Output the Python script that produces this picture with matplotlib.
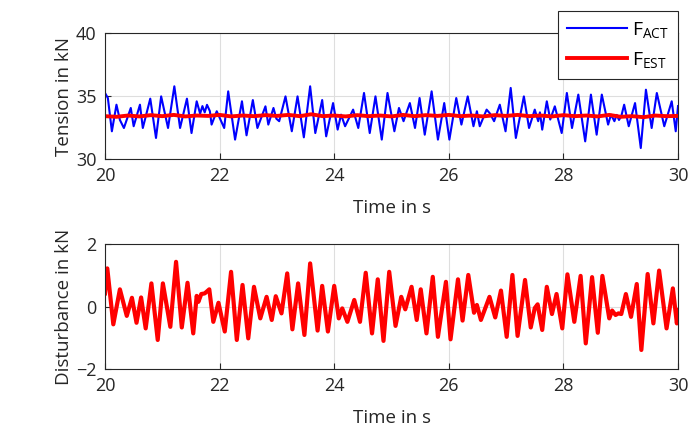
import matplotlib.pyplot as plt

t_act = [20.00, 20.05, 20.12, 20.20, 20.26, 20.33, 20.45, 20.50, 20.61, 20.66,
         20.79, 20.89, 20.98, 21.10, 21.21, 21.31, 21.43, 21.51, 21.60, 21.66,
         21.70, 21.74, 21.78, 21.83, 21.86, 21.95, 22.08, 22.15, 22.27, 22.39,
         22.47, 22.58, 22.66, 22.80, 22.85, 22.94, 22.99, 23.04, 23.15, 23.26,
         23.36, 23.47, 23.58, 23.67, 23.79, 23.86, 23.98, 24.06, 24.12, 24.19,
         24.33, 24.42, 24.52, 24.62, 24.72, 24.83, 24.93, 25.05, 25.13, 25.21,
         25.32, 25.41, 25.49, 25.58, 25.70, 25.81, 25.92, 26.01, 26.13, 26.22,
         26.33, 26.43, 26.49, 26.54, 26.66, 26.72, 26.79, 26.89, 26.99, 27.08,
         27.17, 27.31, 27.40, 27.50, 27.56, 27.59, 27.63, 27.71, 27.77, 27.85,
         27.97, 28.06, 28.15, 28.26, 28.38, 28.48, 28.58, 28.67, 28.78, 28.83,
         28.89, 28.93, 28.97, 29.01, 29.06, 29.14, 29.25, 29.35, 29.44, 29.54,
         29.63, 29.76, 29.89, 29.96, 30.00]
f_act = [35.24, 34.84, 32.20, 34.31, 33.10, 32.46, 34.05, 32.60, 34.31, 32.46,
         34.79, 31.67, 34.97, 32.46, 35.77, 32.46, 34.79, 32.06, 34.58, 33.60,
         34.20, 33.70, 34.30, 33.80, 32.73, 33.79, 32.46, 35.37, 31.54, 34.58,
         31.88, 34.68, 32.46, 34.18, 32.73, 34.05, 33.20, 33.00, 34.97, 32.20,
         34.97, 31.72, 35.77, 32.06, 34.68, 31.80, 34.44, 32.33, 33.52, 32.60,
         33.92, 32.46, 35.24, 32.06, 34.97, 31.54, 35.24, 32.20, 34.05, 33.00,
         34.44, 32.46, 34.84, 31.93, 35.37, 31.54, 34.44, 31.54, 34.84, 32.73,
         34.97, 32.60, 33.79, 32.60, 33.92, 33.60, 33.00, 34.31, 32.20, 35.64,
         31.67, 34.97, 32.46, 33.92, 33.00, 33.70, 32.33, 34.58, 33.13, 34.18,
         32.06, 35.24, 32.46, 35.11, 31.40, 35.11, 31.93, 35.11, 32.73, 33.52,
         33.00, 33.50, 33.10, 33.40, 34.31, 32.60, 34.44, 30.87, 35.50, 32.46,
         35.24, 32.60, 34.58, 32.20, 34.20]

# estimated tension
t_est = [20.0, 20.2, 20.4, 20.6, 20.8, 21.0, 21.2, 21.4, 21.6, 21.8,
         22.0, 22.2, 22.4, 22.6, 22.8, 23.0, 23.2, 23.4, 23.6, 23.8,
         24.0, 24.2, 24.4, 24.6, 24.8, 25.0, 25.2, 25.4, 25.6, 25.8,
         26.0, 26.2, 26.4, 26.6, 26.8, 27.0, 27.2, 27.4, 27.6, 27.8,
         28.0, 28.2, 28.4, 28.6, 28.8, 29.0, 29.2, 29.4, 29.6, 29.8, 30.0]
f_est = [33.40, 33.35, 33.45, 33.38, 33.48, 33.40, 33.50, 33.38, 33.45, 33.42,
         33.50, 33.38, 33.45, 33.40, 33.48, 33.42, 33.50, 33.40, 33.55, 33.40,
         33.45, 33.38, 33.48, 33.40, 33.45, 33.38, 33.50, 33.40, 33.48, 33.42,
         33.50, 33.40, 33.45, 33.38, 33.48, 33.42, 33.50, 33.40, 33.45, 33.38,
         33.48, 33.40, 33.45, 33.38, 33.50, 33.35, 33.40, 33.32, 33.45, 33.40, 33.42]

# disturbance
t_dist = [20.00, 20.04, 20.145, 20.26, 20.38, 20.47, 20.55, 20.63, 20.71, 20.81,
          20.92, 21.01, 21.14, 21.24, 21.34, 21.44, 21.54, 21.60, 21.63, 21.68,
          21.74, 21.82, 21.89, 21.98, 22.09, 22.20, 22.30, 22.40, 22.50, 22.60,
          22.71, 22.82, 22.91, 22.98, 23.08, 23.18, 23.27, 23.37, 23.48, 23.58,
          23.71, 23.79, 23.89, 24.00, 24.08, 24.14, 24.23, 24.35, 24.45, 24.55,
          24.66, 24.76, 24.86, 24.96, 25.07, 25.17, 25.24, 25.35, 25.44, 25.51,
          25.61, 25.72, 25.81, 25.95, 26.03, 26.16, 26.24, 26.34, 26.44, 26.49,
          26.56, 26.71, 26.81, 26.91, 27.01, 27.11, 27.20, 27.33, 27.43, 27.50,
          27.55, 27.63, 27.71, 27.80, 27.88, 27.98, 28.07, 28.19, 28.30, 28.39,
          28.50, 28.60, 28.68, 28.80, 28.85, 28.91, 28.96, 29.01, 29.09, 29.18,
          29.28, 29.36, 29.47, 29.57, 29.67, 29.80, 29.91, 29.98, 30.00]
d_dist = [0.42, 1.22, -0.57, 0.55, -0.30, 0.28, -0.52, 0.29, -0.70, 0.74,
          -1.07, 0.74, -0.65, 1.43, -0.67, 0.76, -0.86, 0.34, 0.15, 0.40,
          0.42, 0.55, -0.49, 0.12, -0.80, 1.11, -1.07, 0.69, -1.02, 0.63,
          -0.38, 0.31, -0.43, 0.33, -0.22, 1.06, -0.73, 0.74, -0.91, 1.38,
          -0.77, 0.66, -0.80, 0.66, -0.38, -0.06, -0.49, 0.21, -0.49, 1.08,
          -0.86, 0.87, -1.10, 1.11, -0.62, 0.31, -0.09, 0.63, -0.43, 0.55,
          -0.86, 0.95, -0.97, 0.79, -1.05, 0.87, -0.45, 1.01, -0.20, 0.05,
          -0.43, 0.31, -0.35, 0.51, -0.97, 1.01, -0.94, 0.85, -0.67, -0.05,
          0.07, -0.75, 0.63, -0.24, 0.40, -0.70, 1.03, -0.49, 0.98, -1.18,
          0.94, -0.84, 0.98, -0.38, -0.13, -0.27, -0.22, -0.24, 0.40, -0.33,
          0.72, -1.39, 1.04, -0.54, 1.15, -0.70, 0.58, -0.54, -0.11]

plt.rcParams['font.family'] = ['Open Sans', 'DejaVu Sans']
plt.rcParams['mathtext.fontset'] = 'custom'
plt.rcParams['mathtext.rm'] = 'Open Sans'

fig = plt.figure(figsize=(7, 4.48), dpi=100)
ax1 = fig.add_axes([0.15, 0.6451, 0.8186, 0.2812])
ax2 = fig.add_axes([0.15, 0.1763, 0.8186, 0.2790])

l1, = ax1.plot(t_act, f_act, color='#0000ff', lw=1.5, solid_joinstyle='round')
l2, = ax1.plot(t_est, f_est, color='#ff0000', lw=2.8, solid_joinstyle='round')
ax2.plot(t_dist, d_dist, color='#ff0000', lw=3.0, solid_joinstyle='round')

ax1.set_ylim(30, 40)
ax1.set_yticks([30, 35, 40])
ax1.set_ylabel('Tension in kN', fontsize=13.5, color='#262626', labelpad=2)
ax2.set_ylim(-2, 2)
ax2.set_yticks([-2, 0, 2])
ax2.set_ylabel('Disturbance in kN', fontsize=13.5, color='#262626', labelpad=2)

for ax in (ax1, ax2):
    ax.set_xlim(20, 30)
    ax.set_xticks([20, 22, 24, 26, 28, 30])
    ax.set_xlabel('Time in s', fontsize=13.5, color='#262626', labelpad=10)
    ax.grid(True, color='#dedede', lw=0.8)
    ax.tick_params(direction='in', labelsize=13, colors='#262626', length=4, pad=6)
    for s in ax.spines.values():
        s.set_color('#262626')
        s.set_linewidth(0.8)

leg = fig.legend([l1, l2], [r'$\mathregular{F_{ACT}}$', r'$\mathregular{F_{EST}}$'],
                 loc='upper right', bbox_to_anchor=(0.968, 0.976), borderaxespad=0,
                 fontsize=14, fancybox=False, framealpha=1, edgecolor='#262626',
                 handlelength=3.1, handletextpad=0.25, borderpad=0.45, labelspacing=0.55)
leg.get_frame().set_linewidth(0.8)

fig.savefig('out.png', dpi=100)
